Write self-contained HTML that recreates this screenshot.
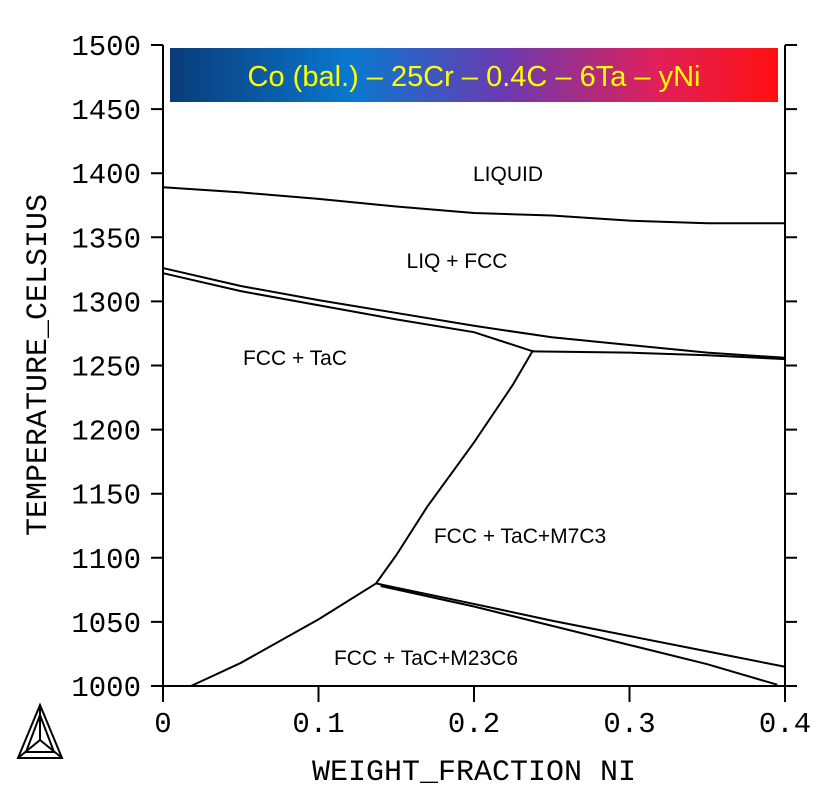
<!DOCTYPE html>
<html><head><meta charset="utf-8"><style>
body{margin:0;background:#fff;}
svg text{font-family:"Liberation Mono",monospace;}
.lab{font-family:"Liberation Sans",sans-serif !important;font-size:21px;}
</style></head><body>
<svg width="831" height="807" viewBox="0 0 831 807">
<defs><linearGradient id="g" x1="0" x2="1"><stop offset="0" stop-color="#0a3b78"/><stop offset="0.3" stop-color="#0a78d0"/><stop offset="0.55" stop-color="#6a3ab0"/><stop offset="0.8" stop-color="#e0205a"/><stop offset="1" stop-color="#ff1010"/></linearGradient></defs>
<rect x="170" y="48" width="608" height="54" fill="url(#g)"/>
<text x="474" y="86" text-anchor="middle" fill="#ffff00" style="font-family:'Liberation Sans',sans-serif;font-size:29px">Co (bal.) – 25Cr – 0.4C – 6Ta – yNi</text>
<g id="axes"></g>
<g id="curves" fill="none" stroke="#000" stroke-width="2"></g>
<text class="lab" x="508" y="181" text-anchor="middle">LIQUID</text>
<text class="lab" x="457" y="268" text-anchor="middle">LIQ + FCC</text>
<text class="lab" x="295" y="365" text-anchor="middle">FCC + TaC</text>
<text class="lab" x="520" y="543" text-anchor="middle">FCC + TaC+M7C3</text>
<text class="lab" x="426" y="665" text-anchor="middle">FCC + TaC+M23C6</text>
<text x="474" y="780" text-anchor="middle" style="font-size:30px">WEIGHT_FRACTION NI</text>
<text transform="translate(46,365) rotate(-90)" text-anchor="middle" style="font-size:30px">TEMPERATURE_CELSIUS</text>
<g fill="none" stroke="#000" stroke-width="2">
<path d="M40 705 L18 758 L62 758 Z"/><path d="M40 715 L26 752 L54 752 Z"/><path d="M40 705 L40 740 L18 758 M40 740 L62 758"/>
</g>
</svg>
<script>
const xTicks=[0,0.1,0.2,0.3,0.4];
const xTickLabels=["0","0.1","0.2","0.3","0.4"];
const yTicks=[1000,1050,1100,1150,1200,1250,1300,1350,1400,1450,1500];
const liquidusX=[0,0.05,0.1,0.15,0.2,0.25,0.3,0.35,0.4];
const liquidusT=[1389,1385,1380,1374,1369,1367,1363,1361,1361];
const solidusAX=[0,0.05,0.1,0.15,0.2,0.25,0.3,0.35,0.4];
const solidusAT=[1326,1312,1301,1291,1281,1272,1266,1260,1256];
const solidusBX=[0,0.05,0.1,0.15,0.2,0.238,0.3,0.35,0.4];
const solidusBT=[1322,1308,1297,1286,1276,1261,1260,1258,1255];
const m7c3X=[0.238,0.225,0.2,0.17,0.15,0.137];
const m7c3T=[1262,1235,1190,1140,1102,1080];
const m23c6X=[0.018,0.05,0.1,0.137];
const m23c6T=[1000,1018,1052,1080];
const upperRX=[0.137,0.2,0.25,0.3,0.35,0.4];
const upperRT=[1080,1064,1051,1039,1027,1015];
const lowerRX=[0.14,0.2,0.25,0.3,0.35,0.395];
const lowerRT=[1078,1062,1047,1032,1017,1001];
const X0=163,X1=785,Y0=686,Y1=45;
const sx=v=>X0+(v-0)/(0.4)*(X1-X0);
const sy=t=>Y0-(t-1000)/500*(Y0-Y1);
const NS="http://www.w3.org/2000/svg";
const ax=document.getElementById('axes');
function mk(tag,attrs,parent){const e=document.createElementNS(NS,tag);for(const k in attrs)e.setAttribute(k,attrs[k]);parent.appendChild(e);return e;}
const frame=mk('path',{d:`M${X0} ${Y1} L${X0} ${Y0} L${X1} ${Y0} L${X1} ${Y1}`,fill:'none',stroke:'#000','stroke-width':2},ax);


yTicks.forEach(t=>{
 const y=sy(t);
 const l=mk('path',{d:`M${X0-12} ${y} H${X0} M${X1} ${y} H${X1+12}`,stroke:'#000','stroke-width':2},ax);
 
 
 const tx=mk('text',{x:X0-22,y:y+10,'text-anchor':'end','font-size':29},ax);
 tx.textContent=t;
 
 
});
xTicks.forEach((v,i)=>{
 const x=sx(v);
 const l=mk('path',{d:`M${x} ${Y0} V${Y0+16}`,stroke:'#000','stroke-width':2},ax);
 
 
 const tx=mk('text',{x:x,y:Y0+46,'text-anchor':'middle','font-size':29},ax);
 tx.textContent=xTickLabels[i];
 
 
});
const cg=document.getElementById('curves');
function line(xs,ts,name){
 const p=mk('polyline',{points:xs.map((v,i)=>sx(v)+','+sy(ts[i])).join(' ')},cg);
 
 
}
line(liquidusX,liquidusT,'liquidus-line');
line(solidusAX,solidusAT,'solidus-upper-line');
line(solidusBX,solidusBT,'solidus-lower-line');
line(m7c3X,m7c3T,'m7c3-boundary');
line(m23c6X,m23c6T,'m23c6-boundary');
line(upperRX,upperRT,'m23c6-upper-right');
line(lowerRX,lowerRT,'m23c6-lower-right');
</script>
</body></html>
